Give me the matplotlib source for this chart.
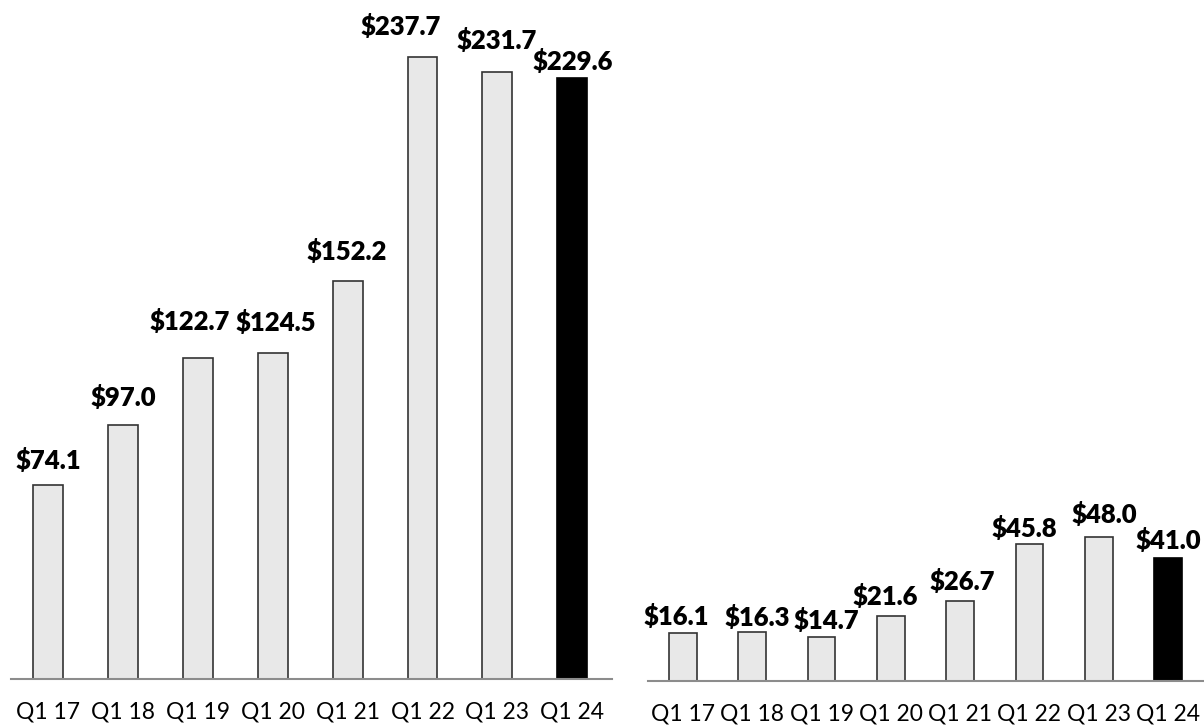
import matplotlib
matplotlib.use("Agg")
import matplotlib.pyplot as plt

quarters = ["Q1 17", "Q1 18", "Q1 19", "Q1 20", "Q1 21", "Q1 22", "Q1 23", "Q1 24"]
left_vals = [74.1, 97.0, 122.7, 124.5, 152.2, 237.7, 231.7, 229.6]
right_vals = [16.1, 16.3, 14.7, 21.6, 26.7, 45.8, 48.0, 41.0]

# label nudges (pixels): dx, height of label centre above bar top
left_nudge = [(0, 25), (0, 28), (-8, 36), (3, 31), (-1, 29), (-22, 30), (-1, 32), (0, 16)]
right_nudge = [(-7, 16), (5, 15), (5, 16), (-6, 20), (2, 19), (-5, 15), (6, 23), (0, 18)]

W, H = 1204, 726
fig = plt.figure(figsize=(W / 100, H / 100), dpi=100, facecolor="white")
plt.rcParams['font.family'] = ['Lato', 'DejaVu Sans']

def panel(rect, vals, nudges, xlim, ymax):
    ax = fig.add_axes([rect[0] / W, rect[1] / H, rect[2] / W, rect[3] / H])
    x = range(len(vals))
    faces = ["#e8e8e8"] * (len(vals) - 1) + ["black"]
    edges = ["#333333"] * (len(vals) - 1) + ["black"]
    ax.bar(x, vals, width=0.40, color=faces, edgecolor=edges, linewidth=1.2, zorder=2)
    for i, v in enumerate(vals):
        dx, dy = nudges[i]
        ax.annotate("${:.1f}".format(v), (i, v), xytext=(dx * 0.72, dy * 0.72),
                    textcoords="offset points", ha="center", va="center",
                    fontsize=18.5, fontweight="heavy", color="black")
    ax.set_xlim(*xlim)
    ax.set_ylim(0, ymax)
    for s in ["left", "right", "top"]:
        ax.spines[s].set_visible(False)
    ax.spines["bottom"].set_color("#8c8c8c")
    ax.spines["bottom"].set_linewidth(1.5)
    ax.set_yticks([])
    ax.set_xticks(list(x))
    ax.set_xticklabels(quarters, fontsize=16.5)
    ax.tick_params(axis="x", length=0, pad=16)
    ax.patch.set_alpha(0)
    return ax

panel((11, 47, 601, 679), left_vals, left_nudge, (-0.494, 7.53), 679 / 2.618)
panel((648, 45, 556, 681), right_vals, right_nudge, (-0.505, 7.52), 681 / 3.0)

fig.savefig("out.png", dpi=100, facecolor="white")
